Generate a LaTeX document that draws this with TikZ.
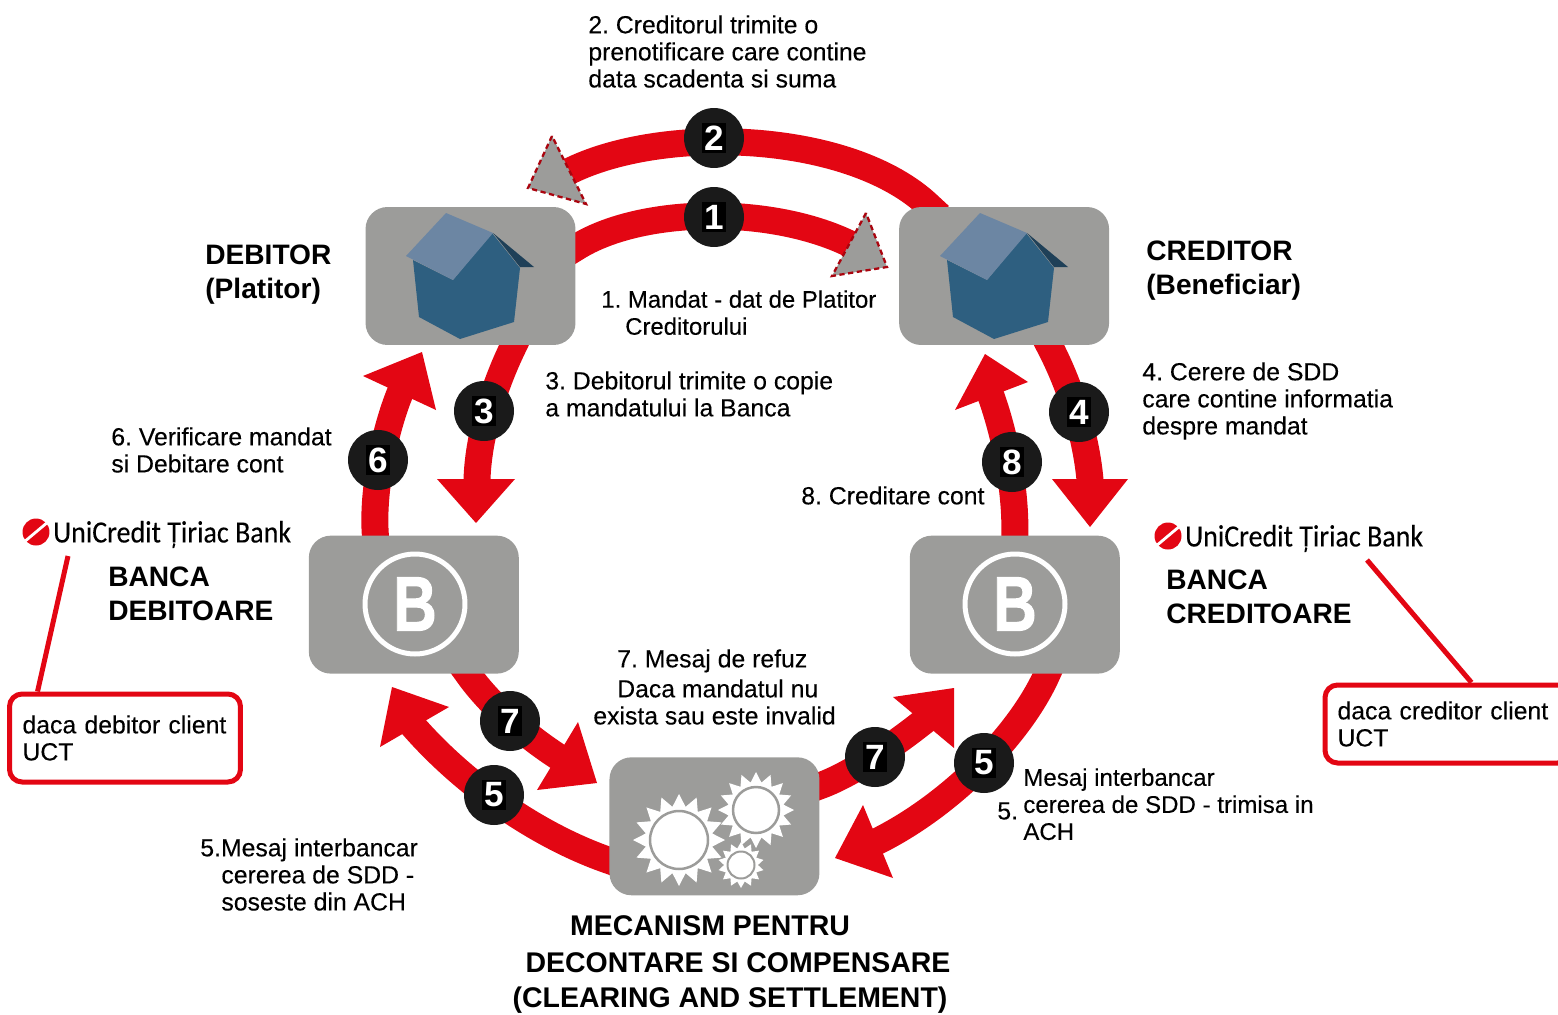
\documentclass[tikz,border=0pt]{standalone}
\usepackage{fontspec}
\setmainfont{Liberation Sans}
\newfontfamily\notefont[FakeBold=0.2]{Liberation Sans}
\newfontfamily\bankfont[UprightFont={* Bold},FakeBold=1.5]{Liberation Sans}
\newfontfamily\logofont[FakeBold=0.15]{Carlito}
\usetikzlibrary{shapes,positioning,backgrounds}
\definecolor{flowred}{HTML}{E30613}
\definecolor{boxgray}{HTML}{9C9C9A}
\definecolor{badgeblack}{HTML}{1A1A1A}
\definecolor{wallblue}{HTML}{2E5F80}
\definecolor{roofblue}{HTML}{6C86A3}
\definecolor{eaveblue}{HTML}{1F4058}
\newcommand{\digitbox}[1]{\setlength{\fboxsep}{1.5pt}\colorbox{black}{#1}}
\frenchspacing

\begin{document}
\begin{tikzpicture}[
    x=0.02cm, y=-0.02cm,
    box/.style={rectangle, fill=boxgray, rounded corners=0.44cm, minimum width=4.2cm, minimum height=2.76cm, inner sep=0pt},
    badge/.style={circle, fill=badgeblack, minimum size=1.2cm, inner sep=0pt, text=white, font=\fontsize{20}{20}\selectfont\bfseries},
    flow/.style={draw=flowred, line width=0.54cm, line cap=rect},
    redtip/.style={fill=flowred},
    graytip/.style={fill=boxgray, draw=flowred!75!black, line width=1.3pt, densely dashed},
    note/.style={font=\notefont\fontsize{14.1}{15.4}\selectfont, align=left, anchor=north west, inner sep=0pt},
    heading/.style={font=\fontsize{16}{19.3}\selectfont\bfseries, align=left, anchor=north west, inner sep=0pt},
    mecline/.style={font=\fontsize{16.2}{19}\selectfont\bfseries, inner sep=0pt},
    calloutbox/.style={rectangle, draw=flowred, line width=0.1cm, rounded corners=0.25cm, align=left, font=\notefont\fontsize{14.1}{15.4}\selectfont},
    calloutline/.style={draw=flowred, line width=0.1cm},
    bankring/.style={circle, draw=white, line width=0.1cm, minimum size=2cm, inner sep=0pt, text=white, font=\bankfont\fontsize{44}{44}\selectfont},
    gearwheel/.style={star, star point ratio=1.36, fill=white, inner sep=0pt},
    gearhub/.style={circle, fill=white, draw=boxgray, line width=0.05cm, inner sep=0pt},
    logotext/.style={font=\logofont\fontsize{17.6}{17.6}\selectfont, inner sep=0pt, anchor=west},
    logoball/.style={circle, fill=flowred, minimum size=0.54cm, inner sep=0pt}
]
    \path[use as bounding box, clip] (0,0) rectangle (1558,1014);

    % boxes
    \node[box] (debitor) at (470.5,276) {};
    \node[box, right=6.46cm of debitor] (creditor) {};
    \node[box, below left=3.8cm and -3.08cm of debitor] (bankd) {};
    \node[box, below right=3.8cm and -4cm of creditor] (bankc) {};
    \node[box, below right=1.66cm and 1.8cm of bankd] (mec) {};

    % houses
    \foreach \dx in {0,534} {
        \begin{scope}[shift={(\dx,0)}]
            \fill[wallblue] (413,260) -- (453,280) -- (492,233) -- (520,268) -- (514,322) -- (460,339) -- (419,317) -- cycle;
            \fill[eaveblue] (493,233) -- (534,267) -- (520,267) -- cycle;
            \fill[roofblue] (446,213) -- (493,233) -- (453,280) -- (406,256) -- cycle;
        \end{scope}
    }

    \node[bankring] (bringd) at (415,604) {\scalebox{0.78}[1]{B}};
    \node[bankring] (bringc) at (1015,604) {\scalebox{0.78}[1]{B}};

    % gears
    \node[gearwheel, star points=16, minimum size=1.84cm] (geara) at (679,840) {};
    \node[gearhub, minimum size=1.16cm] (huba) at (679,840) {};
    \node[gearwheel, star points=16, minimum size=1.52cm] (gearb) at (756,810) {};
    \node[gearhub, minimum size=0.92cm] (hubb) at (756,810) {};
    \node[gearwheel, star points=14, minimum size=0.92cm] (gearc) at (741,865) {};
    \node[gearhub, minimum size=0.54cm, line width=0.04cm] (hubc) at (741,865) {};

    % numbered badges
    \node[badge] (n2) at (714,138) {\digitbox{2}};
    \node[badge] (n1) at (714,217) {\digitbox{1}};
    \node[badge] (n3) at (484,411) {\digitbox{3}};
    \node[badge] (n4) at (1079,412) {\digitbox{4}};
    \node[badge] (n6) at (378,460) {\digitbox{6}};
    \node[badge] (n8) at (1012,462) {\digitbox{8}};
    \node[badge] (n7a) at (510,721) {\digitbox{7}};
    \node[badge] (n5a) at (494,795) {\digitbox{5}};
    \node[badge] (n7b) at (875,757) {\digitbox{7}};
    \node[badge] (n5b) at (984,763) {\digitbox{5}};

    \coordinate (h1) at (850,244);
    \coordinate (h2) at (568,172);
    \coordinate (h3) at (477,480);
    \coordinate (h4) at (1090,480);
    \coordinate (h6) at (400,393);
    \coordinate (h8) at (991,396);
    \coordinate (h7a) at (557,756);
    \coordinate (h5a) at (414,727);
    \coordinate (h7b) at (923,722);
    \coordinate (h5b) at (878,841);

    % arrows run behind boxes and badges
    \begin{scope}[on background layer]
        \draw[flow] (debitor.15) .. controls (640,207) and (770,205) .. (h1);
        \draw[flow] (creditor.137) .. controls (850,130) and (660,125) .. (h2);
        \draw[flow] (debitor.-58) .. controls (492,390) and (478,440) .. (h3);
        \draw[flow] (creditor.-57) .. controls (1070,385) and (1086,435) .. (h4);
        \draw[flow] (bankd.119) .. controls (372,490) and (385,430) .. (h6);
        \draw[flow] (bankc.90) .. controls (1016,490) and (1005,435) .. (h8);
        \draw[flow] (bankd.-52) .. controls (490,705) and (525,735) .. (h7a);
        \draw[flow] (mec.198) .. controls (538,836) and (465,785) .. (h5a);
        \draw[flow] (mec.21) .. controls (850,775) and (890,748) .. (h7b);
        \draw[flow] (bankc.-65) .. controls (1020,735) and (950,805) .. (h5b);
    \end{scope}

    % arrow heads
    \draw[graytip] (866,213) -- (832,276) -- (887,267) -- cycle;
    \draw[graytip] (552,136) -- (528,188) -- (586,204) -- cycle;
    \fill[redtip] (437,479) -- (515,479) -- (476,523) -- cycle;
    \fill[redtip] (1052,479) -- (1128,479) -- (1090,527) -- cycle;
    \fill[redtip] (422,352) -- (363,376) -- (436,410) -- cycle;
    \fill[redtip] (985,354) -- (955,410) -- (1028,382) -- cycle;
    \fill[redtip] (597,783) -- (578,722) -- (537,790) -- cycle;
    \fill[redtip] (392,687) -- (449,707) -- (380,747) -- cycle;
    \fill[redtip] (954,688) -- (893,697) -- (954,748) -- cycle;
    \fill[redtip] (835,858) -- (863,805) -- (893,878) -- cycle;

    % texts
    \node[note] (t2) at (588,15) {2. Creditorul trimite o\\prenotificare care contine\\data scadenta si suma};
    \node[note, font=\notefont\fontsize{13.6}{15.4}\selectfont] (t1) at (601,290) {1. Mandat - dat de Platitor\\\hspace*{13.6pt}Creditorului};
    \node[note] (t3) at (545,371) {3. Debitorul trimite o copie\\a mandatului la Banca};
    \node[note] (t4) at (1142,362) {4. Cerere de SDD\\care contine informatia\\despre mandat};
    \node[note] (t6) at (111,427) {6. Verificare mandat\\si Debitare cont};
    \node[note] (t8) at (801,486) {8. Creditare cont};
    \node[note] (t7) at (593,649) {\hspace*{13.6pt}7. Mesaj de refuz\\[1.7pt]\hspace*{13.6pt}Daca mandatul nu\\exista sau este invalid};
    \node[note, font=\notefont\fontsize{13.7}{15.4}\selectfont] (t5b) at (1023,768) {Mesaj interbancar\\cererea de SDD - trimisa in\\ACH};
    \node[note] (t5bnr) at (997,802) {5.};
    \node[note] (t5a) at (200,838) {5.Mesaj interbancar\\\hspace*{12pt}cererea de SDD -\\\hspace*{12pt}soseste din ACH};

    \node[heading] (tdeb) at (205,245) {DEBITOR\\(Platitor)};
    \node[heading] (tcre) at (1146,241) {CREDITOR\\(Beneficiar)};
    \node[heading] (tbd) at (108,567) {BANCA\\DEBITOARE};
    \node[heading] (tbc) at (1166,570) {BANCA\\CREDITOARE};
    \node[mecline] (m1) at (710,926) {MECANISM PENTRU};
    \node[mecline] (m2) at (738,963) {DECONTARE SI COMPENSARE};
    \node[mecline] (m3) at (730,1000) {(CLEARING AND SETTLEMENT)};

    % logos and notes about UCT
    \foreach \nm/\bx/\by in {d/36/532,c/1168/536} {
        \node[logoball] (ball\nm) at (\bx,\by) {};
        \draw[white, line width=1.6pt] (ball\nm.-140) -- (ball\nm.40);
        \node[logotext, right=0.06cm of ball\nm, yshift=-0.05cm] (logo\nm) {\scalebox{0.905}[1]{UniCredit Țiriac Bank}};
    }
    \node[calloutbox, text width=4.1cm, inner xsep=0.26cm, minimum height=1.76cm] (calld) at (125,738) {daca debitor client\\UCT\par\vspace{3pt}};
    \node[calloutbox, text width=4.4cm, inner xsep=0.25cm, minimum height=1.56cm] (callc) at (1447.5,724) {daca creditor client\\UCT\par\vspace{2pt}};
    \coordinate (tagd) at (68,556);
    \coordinate (tagc) at (1367,560);
    \draw[calloutline] (tagd) -- (calld.152);
    \draw[calloutline] (tagc) -- (callc.60);
\end{tikzpicture}
\end{document}
